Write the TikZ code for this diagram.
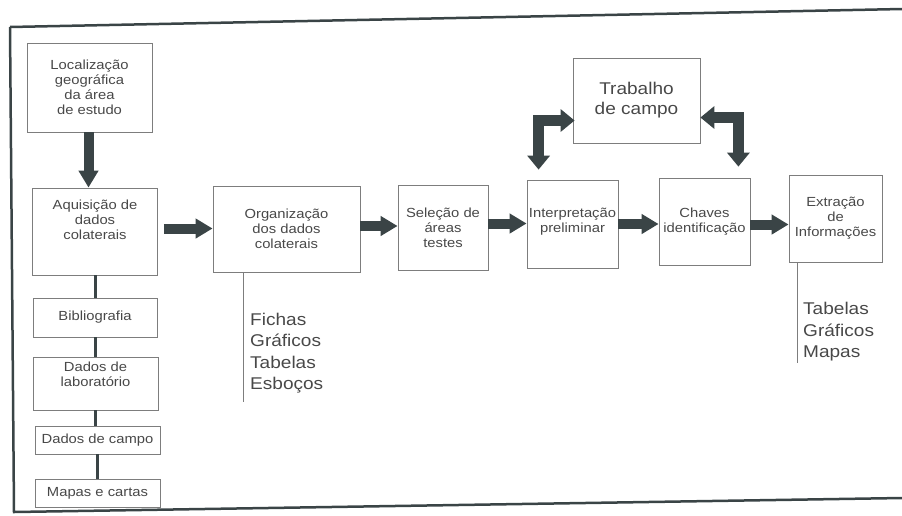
\documentclass[tikz,border=0pt]{standalone}
\usepackage{fontspec}
\setmainfont[FakeStretch=1.12]{Liberation Sans}
\usetikzlibrary{%
	arrows.meta,%
	calc%
}
\definecolor{arrow-gray}{RGB}{58,68,70}
\definecolor{text-gray}{RGB}{72,72,72}
\definecolor{box-gray}{RGB}{125,125,125}

\begin{document}
\begin{tikzpicture}[x=1pt,y=-1pt,
		box/.style={draw=box-gray,line width=0.8pt,align=center,inner sep=1pt,
			text=text-gray,font=\fontsize{13.2}{15}\selectfont},
		fat/.style={arrow-gray,line width=10pt,-{Triangle[length=17pt,width=19pt]}},
		elbow/.style={arrow-gray,line width=11pt,line join=miter,
			{Triangle[length=14pt,width=22pt]}-{Triangle[length=14pt,width=22pt]}},
		link/.style={arrow-gray,line width=3pt},
		tail/.style={box-gray,line width=0.8pt},
		list/.style={align=left,inner sep=0pt,text=text-gray,font=\fontsize{17}{21.5}\selectfont}
	]
	\useasboundingbox (0,0) rectangle (902,515);
	
	% Frame
	\draw[arrow-gray,line width=2.5pt] (10,27) -- (902,9);
	\draw[arrow-gray,line width=2.5pt] (10,27) -- (14,512) -- (902,498);
	
	% Left column
	\node[box,minimum width=125,minimum height=89] (loc) at (89.5,87.5)
		{Localização\\geográfica\\da área\\de estudo};
	\node[box,minimum width=125,minimum height=87,text depth=23pt] (aq) at (95,231.5)
		{Aquisição de\\dados\\colaterais};
	\node[box,minimum width=124,minimum height=39] (bib) at (95,317.5) {Bibliografia};
	\node[box,minimum width=125,minimum height=53,text depth=18pt] (lab) at (95.5,383.5)
		{Dados de\\laboratório};
	\node[box,minimum width=125,minimum height=28] (campo) at (97.5,440) {Dados de campo};
	\node[box,minimum width=125,minimum height=28] (mapas) at (97.5,493) {Mapas e cartas};
	
	% Main row
	\node[box,minimum width=147,minimum height=86] (org) at (286.5,229)
		{Organização\\dos dados\\colaterais};
	\node[box,minimum width=90,minimum height=85] (sel) at (443,227.5)
		{Seleção de\\áreas\\testes};
	\node[box,minimum width=91,minimum height=88,text depth=8pt] (interp) at (572.5,224)
		{Interpretação\\preliminar};
	\node[box,minimum width=91,minimum height=87] (chaves) at (704.5,221.5)
		{Chaves\\identificação};
	\node[box,minimum width=93,minimum height=87] (extr) at (835.5,218.5)
		{Extração\\de\\Informações};
	\node[box,minimum width=127,minimum height=85,font=\fontsize{17}{20}\selectfont] (trab)
		at (636.5,100.5) {Trabalho\\de campo};
	
	% Products
	\node[list,anchor=west] (orglist) at (250,353) {Fichas\\Gráficos\\Tabelas\\Esboços};
	\node[list,anchor=west] (extrlist) at (803,332) {Tabelas\\Gráficos\\Mapas};
	\coordinate (orgend) at (243,402);
	\coordinate (extrend) at (797,363);
	\draw[tail] (org.south -| orgend) -- (orgend);
	\draw[tail] (extr.south -| extrend) -- (extrend);
	
	% Thick arrows
	\draw[fat] ([xshift=-1pt]loc.south) -- ([xshift=-1pt]loc.south |- aq.north);
	\draw[fat] ([xshift=6pt,yshift=3pt]aq.east) -- ([yshift=3pt]org.west |- aq.east);
	\draw[fat] ([yshift=3pt]org.east) -- ([yshift=3pt]org.east -| sel.west);
	\draw[fat] ([yshift=4pt]sel.east) -- ([yshift=4pt]sel.east -| interp.west);
	\draw[fat] (interp.east) -- (interp.east -| chaves.west);
	\draw[fat] ([yshift=-3pt]chaves.east) -- ([yshift=-3pt]chaves.east -| extr.west);
	
	% Field work loops
	\draw[elbow] ($(interp.north west)+(12,-10)$) |- ($(trab.west)+(2,20)$);
	\draw[elbow] ($(trab.east)+(0,17)$) -| ($(chaves.north east)+(-12,-11)$);
	
	% Data sources
	\draw[link] (aq.south) -- (bib.north);
	\draw[link] (bib.north |- bib.south) -- (bib.north |- lab.north);
	\draw[link] (lab.south) -- (lab.south |- campo.north);
	\draw[link] (campo.south) -- (mapas.north);
\end{tikzpicture}
\end{document}
